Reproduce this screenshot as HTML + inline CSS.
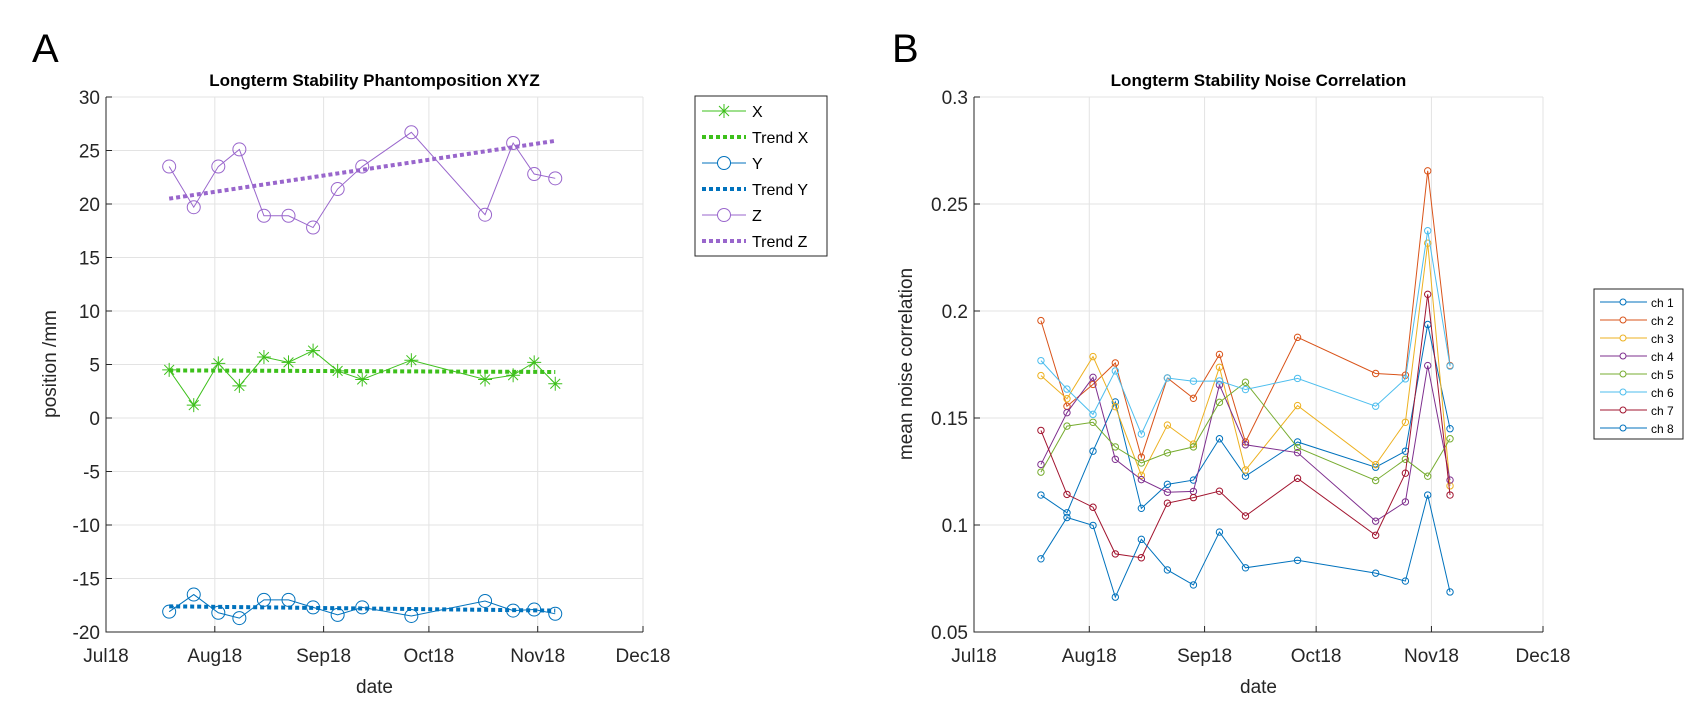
<!DOCTYPE html>
<html><head><meta charset="utf-8">
<style>
html,body{margin:0;padding:0;background:#fff;}
svg{display:block;font-family:"Liberation Sans",Arial,sans-serif;}
</style></head>
<body>
<svg id="fig" width="1706" height="703" viewBox="0 0 1706 703" xmlns="http://www.w3.org/2000/svg">
<rect width="1706" height="703" fill="#fff"/>
<text x="32" y="62" font-size="40" fill="#000">A</text>
<text x="892" y="62" font-size="40" fill="#000">B</text>
<g id="pa"></g>
<g id="pb"></g>
</svg>
<script>
// ---- data (days since Jul 1 2018) ----
const dayTicks = [0, 31, 62, 92, 123, 153];
const monthLabels = ["Jul18","Aug18","Sep18","Oct18","Nov18","Dec18"];
const sessionDays = [18,25,32,38,45,52,59,66,73,87,108,116,122,128];
const posX = [4.5,1.2,5.1,3.0,5.7,5.2,6.3,4.4,3.6,5.4,3.6,4.0,5.2,3.2];
const posY = [-18.1,-16.5,-18.2,-18.7,-17.0,-17.0,-17.7,-18.4,-17.7,-18.5,-17.1,-18.0,-17.9,-18.3];
const posZ = [23.5,19.7,23.5,25.1,18.9,18.9,17.8,21.4,23.5,26.7,19.0,25.7,22.8,22.4];
const trendX = [4.45, 4.3];
const trendY = [-17.6, -18.0];
const trendZ = [20.5, 25.9];
const posTicks = [30,25,20,15,10,5,0,-5,-10,-15,-20];
const ch1 = [0.114,0.1057,0.1345,0.1575,0.1078,0.119,0.121,0.1403,0.1228,0.1388,0.127,0.1345,0.1937,0.145];
const ch2 = [0.1955,0.1555,0.1657,0.1757,0.1317,0.1687,0.1592,0.1797,0.1388,0.1877,0.1708,0.17,0.2655,0.1745];
const ch3 = [0.1698,0.159,0.1787,0.1553,0.1232,0.1467,0.1378,0.1737,0.1257,0.1558,0.1282,0.148,0.2317,0.1183];
const ch4 = [0.1283,0.1525,0.169,0.1307,0.1212,0.1153,0.1157,0.1655,0.1375,0.1338,0.1018,0.1108,0.1745,0.121];
const ch5 = [0.1247,0.1462,0.148,0.1365,0.129,0.1337,0.1365,0.1573,0.1667,0.1362,0.1208,0.1307,0.1228,0.1403];
const ch6 = [0.1768,0.1635,0.1517,0.172,0.1425,0.1687,0.1672,0.1673,0.1633,0.1685,0.1555,0.1683,0.2375,0.1742];
const ch7 = [0.1442,0.1143,0.1083,0.0865,0.0847,0.1102,0.1128,0.1158,0.1042,0.1218,0.0952,0.1242,0.2078,0.114];
const ch8 = [0.0842,0.1035,0.0998,0.0663,0.0933,0.079,0.072,0.0967,0.08,0.0835,0.0775,0.0738,0.114,0.0687];
const corrTicks = [0.3,0.25,0.2,0.15,0.1,0.05];
const corrTickLabels = ["0.3","0.25","0.2","0.15","0.1","0.05"];

const NS="http://www.w3.org/2000/svg";
function mk(tag, attrs, parent){const e=document.createElementNS(NS,tag);for(const k in attrs)e.setAttribute(k,attrs[k]);parent.appendChild(e);return e;}
function txt(s, attrs, parent){const e=mk('text',attrs,parent);e.textContent=s;return e;}

function axes(g, L, R, T, B, xmin, xmax, ymin, ymax, yticks, ylabels, title, ylab){
  const sx=d=>L+(d-xmin)/(xmax-xmin)*(R-L);
  const sy=v=>B-(v-ymin)/(ymax-ymin)*(B-T);
  dayTicks.forEach((d,i)=>{
    const x=sx(d);
    const gl=mk('line',{x1:x,x2:x,y1:T,y2:B,stroke:'#e3e3e3','stroke-width':1},g);
    
    
    const tk=mk('line',{x1:x,x2:x,y1:B,y2:B-6,stroke:'#262626','stroke-width':1},g);
    
    
    const t=txt(monthLabels[i],{x:x,y:B+30,'font-size':19,'text-anchor':'middle',fill:'#262626'},g);
    
    
  });
  yticks.forEach((v,i)=>{
    const y=sy(v);
    const gl=mk('line',{x1:L,x2:R,y1:y,y2:y,stroke:'#e3e3e3','stroke-width':1},g);
    
    
    const tk=mk('line',{x1:L,x2:L+6,y1:y,y2:y,stroke:'#262626','stroke-width':1},g);
    
    
    const t=txt(ylabels[i],{x:L-6,y:y+7,'font-size':19,'text-anchor':'end',fill:'#262626'},g);
    
    
  });
  const ax=mk('path',{d:`M${L},${T}V${B}H${R}`,fill:'none',stroke:'#262626','stroke-width':1},g);
  
  
  const ti=txt(title,{x:(L+R)/2,y:86,'font-size':17,'font-weight':'bold','text-anchor':'middle',fill:'#000'},g);
  
  
  const xl=txt('date',{x:(L+R)/2,y:693,'font-size':19,'text-anchor':'middle',fill:'#262626'},g);
  
  
  return {sx,sy,L,T,B,R};
}

function series(g, ax, vals, color, marker, r, name){
  const pts=vals.map((v,i)=>[ax.sx(sessionDays[i]),ax.sy(v)]);
  const sg=mk('g',{},g);
  
  
  mk('polyline',{points:pts.map(p=>p.join(',')).join(' '),fill:'none',stroke:color,'stroke-width':1},sg);
  pts.forEach(p=>{
    if(marker==='o'){
      const c=mk('circle',{cx:p[0],cy:p[1],r:r,fill:'none',stroke:color,'stroke-width':1},sg);
      
      
    } else {
      const a=mk('path',{d:`M${p[0]-r},${p[1]}H${p[0]+r}M${p[0]},${p[1]-r}V${p[1]+r}M${p[0]-r*0.7},${p[1]-r*0.7}L${p[0]+r*0.7},${p[1]+r*0.7}M${p[0]-r*0.7},${p[1]+r*0.7}L${p[0]+r*0.7},${p[1]-r*0.7}`,stroke:color,'stroke-width':1,fill:'none'},sg);
      
      
    }
  });
}
function trend(g, ax, tv, color, name){
  const d0=sessionDays[0], d1=sessionDays[sessionDays.length-1];
  const l=mk('line',{x1:ax.sx(d0),y1:ax.sy(tv[0]),x2:ax.sx(d1),y2:ax.sy(tv[1]),stroke:color,'stroke-width':4,'stroke-dasharray':'4,3'},g);
  
  
}

// ---- Panel A ----
const ga=document.getElementById('pa');
const axA=axes(ga,106,643,97,632,0,153,-20,30,posTicks,posTicks.map(String),'Longterm Stability Phantomposition XYZ','position /mm');
const ylA=txt('position /mm',{x:0,y:0,'font-size':19,'text-anchor':'middle',fill:'#262626',transform:'translate(56,364) rotate(-90)'},ga);


const cX='#3dc01b', cY='#0072BD', cZ='#9966cc';
series(ga,axA,posX,cX,'*',7,'series-x');
trend(ga,axA,trendX,cX,'trend-x-line');
series(ga,axA,posY,cY,'o',6.5,'series-y');
trend(ga,axA,trendY,cY,'trend-y-line');
series(ga,axA,posZ,cZ,'o',6.5,'series-z');
trend(ga,axA,trendZ,cZ,'trend-z-line');

// legend A
const lgA=mk('g',{},ga);


mk('rect',{x:695,y:96,width:132,height:160,fill:'#fff',stroke:'#262626','stroke-width':1},lgA);
const legA=[['X',cX,'*'],['Trend X',cX,'t'],['Y',cY,'o'],['Trend Y',cY,'t'],['Z',cZ,'o'],['Trend Z',cZ,'t']];
legA.forEach((e,i)=>{
  const y=111+i*26;
  const eg=mk('g',{},lgA);
  
  
  if(e[2]==='t'){
    mk('line',{x1:702,x2:746,y1:y,y2:y,stroke:e[1],'stroke-width':4,'stroke-dasharray':'4,3'},eg);
  } else {
    mk('line',{x1:702,x2:746,y1:y,y2:y,stroke:e[1],'stroke-width':1},eg);
    if(e[2]==='o') mk('circle',{cx:724,cy:y,r:6.5,fill:'#fff',stroke:e[1]},eg);
    else mk('path',{d:`M717,${y}H731M724,${y-7}V${y+7}M719,${y-5}L729,${y+5}M719,${y+5}L729,${y-5}`,stroke:e[1],fill:'none'},eg);
  }
  txt(e[0],{x:752,y:y+6,'font-size':16,fill:'#000'},eg);
});

// ---- Panel B ----
const gb=document.getElementById('pb');
const axB=axes(gb,974,1543,97,632,0,153,0.05,0.3,corrTicks,corrTickLabels,'Longterm Stability Noise Correlation','mean noise correlation');
const ylB=txt('mean noise correlation',{x:0,y:0,'font-size':19,'text-anchor':'middle',fill:'#262626',transform:'translate(912,364) rotate(-90)'},gb);


const chans=[ch1,ch2,ch3,ch4,ch5,ch6,ch7,ch8];
const chColors=['#0072BD','#D95319','#EDB120','#7E2F8E','#77AC30','#4DBEEE','#A2142F','#0072BD'];
chans.forEach((c,i)=>series(gb,axB,c,chColors[i],'o',3.2,'series-ch'+(i+1)));

const lgB=mk('g',{},gb);


mk('rect',{x:1594,y:289,width:89,height:150,fill:'#fff',stroke:'#262626','stroke-width':1},lgB);
chColors.forEach((col,i)=>{
  const y=302+i*18;
  const eg=mk('g',{},lgB);
  
  
  mk('line',{x1:1600,x2:1647,y1:y,y2:y,stroke:col,'stroke-width':1},eg);
  mk('circle',{cx:1623,cy:y,r:3,fill:'#fff',stroke:col},eg);
  txt('ch '+(i+1),{x:1651,y:y+5,'font-size':12,fill:'#000'},eg);
});
</script>
</body></html>
